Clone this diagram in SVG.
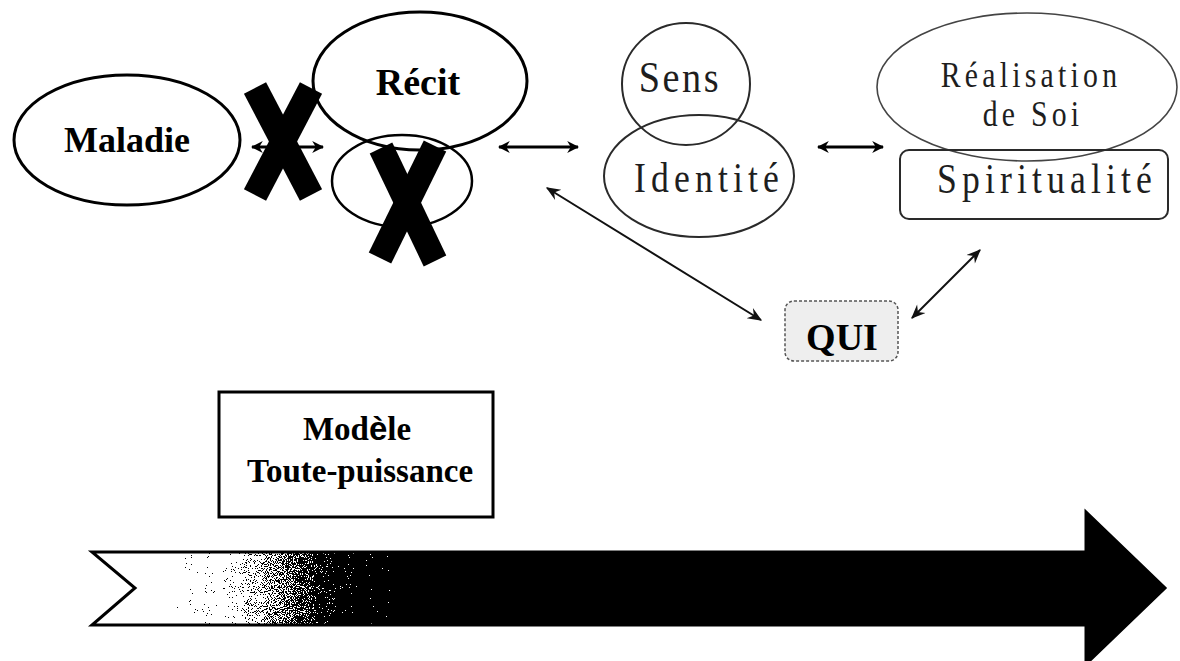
<svg xmlns="http://www.w3.org/2000/svg" width="1180" height="661" viewBox="0 0 1180 661">
  <style>
    .bold { font-family: "Liberation Serif", "Times New Roman", serif; font-weight: bold; fill: #000; text-anchor: middle; }
    .soft { font-family: "Liberation Serif", "Times New Roman", serif; fill: #1e1e1e; text-anchor: middle; }
    .thick { fill: #fff; stroke: #000; stroke-width: 3; }
    .thin { fill: none; stroke: #2a2a2a; stroke-width: 2; }
    .cross { stroke: #000; stroke-width: 25; stroke-linecap: butt; }
    .link { stroke: #000; stroke-width: 3; fill: none; }
    .diag { stroke: #111; stroke-width: 2; fill: none; }
  </style>
  <defs>
    <marker id="head" viewBox="0 0 10 10" refX="9" refY="5" markerWidth="12" markerHeight="14" markerUnits="userSpaceOnUse" orient="auto-start-reverse">
      <path d="M0,0 L10,5 L0,10 L3,5 z" fill="#000"/>
    </marker>
    <marker id="barb" viewBox="0 0 12 10" refX="11" refY="5" markerWidth="16" markerHeight="12" markerUnits="userSpaceOnUse" orient="auto-start-reverse">
      <path d="M0,0 L12,5 L0,10 L4,5 z" fill="#111"/>
    </marker>
    <linearGradient id="fade" gradientUnits="userSpaceOnUse" x1="218" y1="0" x2="345" y2="0">
      <stop offset="0" stop-color="#fff"/>
      <stop offset="1" stop-color="#000"/>
    </linearGradient>
    <!-- turns the grey ramp into a black/white speckle -->
    <filter id="dither" x="0" y="0" width="1" height="1" color-interpolation-filters="sRGB">
      <feTurbulence type="fractalNoise" baseFrequency="0.95" numOctaves="2" seed="7" result="noise"/>
      <feColorMatrix in="noise" type="matrix" values="1 0 0 0 0  1 0 0 0 0  1 0 0 0 0  0 0 0 0 1" result="grey"/>
      <feComposite in="SourceGraphic" in2="grey" operator="arithmetic" k1="0" k2="1" k3="2" k4="-1" result="mix"/>
      <feComponentTransfer in="mix">
        <feFuncR type="discrete" tableValues="0 1"/>
        <feFuncG type="discrete" tableValues="0 1"/>
        <feFuncB type="discrete" tableValues="0 1"/>
        <feFuncA type="discrete" tableValues="1 1"/>
      </feComponentTransfer>
    </filter>
  </defs>

  <!-- connectors -->
  <g id="connectors">
    <line class="link" x1="252" y1="147" x2="323" y2="147" marker-start="url(#head)" marker-end="url(#head)"/>
    <line class="link" x1="499" y1="147" x2="578" y2="147" marker-start="url(#head)" marker-end="url(#head)"/>
    <line class="link" x1="818" y1="147" x2="883" y2="147" marker-start="url(#head)" marker-end="url(#head)"/>
    <line class="diag" x1="547" y1="188" x2="761" y2="320" marker-start="url(#barb)" marker-end="url(#barb)"/>
    <line class="diag" x1="912" y1="318" x2="980" y2="250" marker-start="url(#barb)" marker-end="url(#barb)"/>
  </g>

  <g id="maladie">
    <ellipse class="thick" cx="127" cy="140" rx="113" ry="65"/>
    <text class="bold" x="127" y="152" font-size="36">Maladie</text>
  </g>

  <g id="recit">
    <ellipse class="thick" cx="420" cy="81" rx="107" ry="69"/>
    <text class="bold" x="418" y="95" font-size="38">Récit</text>
  </g>

  <g id="recit-sub">
    <ellipse fill="none" stroke="#000" stroke-width="2.5" cx="402" cy="181" rx="70" ry="46"/>
  </g>

  <!-- crosses striking out the link and the inner ellipse -->
  <g id="cross-link">
    <line class="cross" x1="255" y1="88" x2="311" y2="195"/>
    <line class="cross" x1="311" y1="88" x2="255" y2="195"/>
  </g>
  <g id="cross-sub">
    <line class="cross" x1="381" y1="148" x2="435" y2="261"/>
    <line class="cross" x1="435" y1="146" x2="380" y2="258"/>
  </g>

  <!-- right-hand labels use a narrowed, widely spaced serif -->
  <g id="sens">
    <ellipse class="thin" cx="686" cy="84" rx="64" ry="61"/>
    <text class="soft" font-size="45" letter-spacing="3" transform="translate(680,92) scale(0.85,1)">Sens</text>
  </g>

  <g id="identite">
    <ellipse class="thin" cx="699" cy="176" rx="95" ry="61"/>
    <text class="soft" font-size="42" letter-spacing="6" transform="translate(709,192) scale(0.85,1)">Identité</text>
  </g>

  <g id="realisation">
    <ellipse fill="none" stroke="#444" stroke-width="1.6" cx="1027" cy="87" rx="150" ry="74"/>
    <text class="soft" font-size="35" letter-spacing="5" transform="translate(1031,87) scale(0.85,1)">Réalisation</text>
    <text class="soft" font-size="35" letter-spacing="5" transform="translate(1033,126) scale(0.85,1)">de Soi</text>
  </g>

  <g id="spiritualite">
    <rect class="thin" x="900" y="150" width="268" height="69" rx="9"/>
    <text class="soft" font-size="42" letter-spacing="6" transform="translate(1047,193) scale(0.85,1)">Spiritualité</text>
  </g>

  <g id="qui">
    <rect x="785" y="301" width="113" height="60" rx="9" fill="#eeeeee" stroke="#555" stroke-width="1.5" stroke-dasharray="3 2"/>
    <text class="bold" x="842" y="350" font-size="38">QUI</text>
  </g>

  <g id="modele">
    <rect class="thick" x="219" y="392" width="274" height="125"/>
    <text class="bold" x="357" y="440" font-size="33">Mod<tspan font-family="Liberation Sans, Arial, sans-serif">è</tspan>le</text>
    <text class="bold" x="360" y="482" font-size="33">Toute-puissance</text>
  </g>

  <!-- timeline arrow: white tail fading through a speckled band into black -->
  <g id="timeline">
    <path d="M92,552 L1086,552 L1086,512 L1165,588 L1086,664 L1086,625 L92,625 L135,588 Z" fill="url(#fade)"/>
    <rect x="175" y="553" width="215" height="71" fill="url(#fade)" filter="url(#dither)"/>
    <path d="M92,552 L1086,552 L1086,512 L1165,588 L1086,664 L1086,625 L92,625 L135,588 Z" fill="none" stroke="#000" stroke-width="3" stroke-linejoin="miter"/>
  </g>
</svg>
